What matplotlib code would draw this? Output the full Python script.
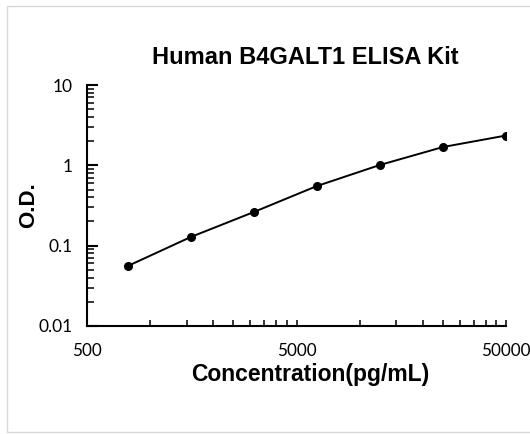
import matplotlib.pyplot as plt
from matplotlib.patches import Rectangle
from matplotlib.ticker import FixedLocator, NullFormatter, LogLocator

# ── Standard curve data ───────────────────────────────────────────────────────
conc = [781.25, 1562.5, 3125, 6250, 12500, 25000, 50000]   # pg/mL
od = [0.0557, 0.128, 0.262, 0.552, 1.01, 1.69, 2.35]

x_major = [500, 5000, 50000]
x_major_labels = ["500", "5000", "50000"]
x_minor = [500 * k for k in range(2, 10)] + [5000 * k for k in range(2, 10)]
y_major = [0.01, 0.1, 1, 10]
y_major_labels = ["0.01", "0.1", "1", "10"]

plt.rcParams["font.family"] = ["Liberation Sans", "DejaVu Sans"]

fig = plt.figure(figsize=(5.3, 4.34), dpi=100)
ax = fig.add_axes([87 / 530, 1 - 326 / 434, (506 - 87) / 530, (326 - 85) / 434])

# light frame round the chart area
fig.patches.append(Rectangle((7 / 530, 1 - 432 / 434), 1.0, (432 - 6) / 434,
                             transform=fig.transFigure, fill=False,
                             edgecolor="#d9d9d9", lw=1.0))

ax.plot(conc, od, color="black", lw=1.4, zorder=2)
ax.plot(conc, od, "o", color="black", ms=5.5, zorder=3)

ax.set_xscale("log")
ax.set_yscale("log")
ax.set_xlim(500, 50000)
ax.set_ylim(0.01, 10)

ax.xaxis.set_major_locator(FixedLocator(x_major))
ax.set_xticklabels(x_major_labels, fontfamily="Lato")
ax.xaxis.set_minor_locator(FixedLocator(x_minor))
ax.xaxis.set_minor_formatter(NullFormatter())
ax.yaxis.set_major_locator(FixedLocator(y_major))
ax.set_yticklabels(y_major_labels, fontfamily="Lato")
ax.yaxis.set_minor_locator(LogLocator(base=10, subs=range(2, 10)))
ax.yaxis.set_minor_formatter(NullFormatter())

for s in ["top", "right"]:
    ax.spines[s].set_visible(False)
for s in ["left", "bottom"]:
    ax.spines[s].set_linewidth(1.5)

ax.tick_params(axis="x", which="both", direction="in", length=4, width=1.1,
               labelsize=12.3, pad=12)
ax.tick_params(axis="y", which="major", direction="in", length=8, width=1.5,
               labelsize=12.5, pad=10)
ax.tick_params(axis="y", which="minor", direction="in", length=5, width=1.1)

ax.set_title("Human B4GALT1 ELISA Kit", fontsize=17, fontweight="bold",
             x=0.52, pad=15)
ax.set_xlabel("Concentration(pg/mL)", fontsize=16.5, fontweight="bold")
ax.xaxis.set_label_coords(0.533, -0.152)
ax.set_ylabel("O.D.", fontsize=16, fontweight="bold")
ax.yaxis.set_label_coords(-0.115, 0.50)

fig.savefig("out.png", dpi=100)
